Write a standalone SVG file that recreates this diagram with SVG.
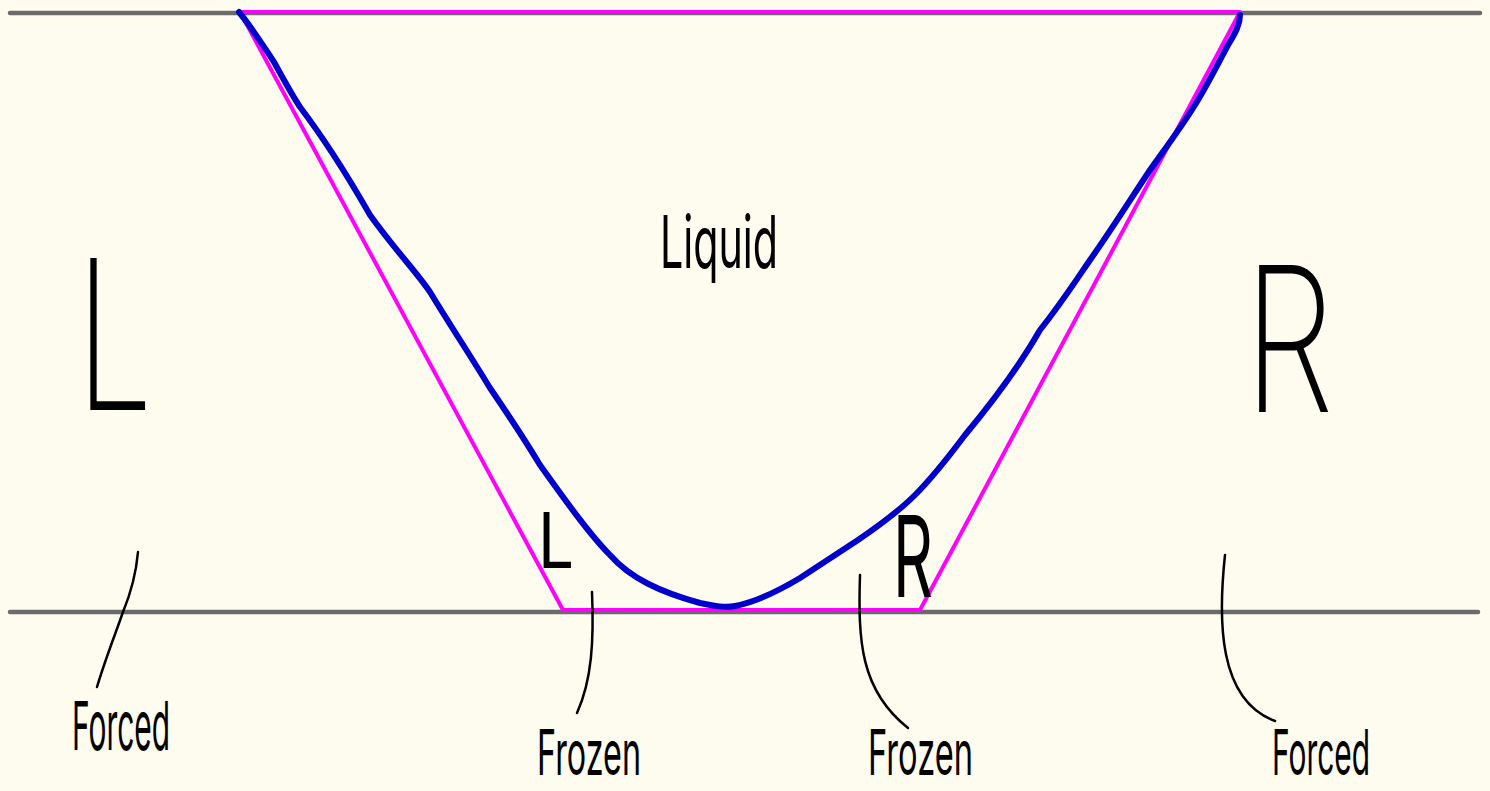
<svg xmlns="http://www.w3.org/2000/svg" width="1490" height="791" viewBox="0 0 1490 791">
<style>
.bg{fill:#fefcee}
.axis{stroke:#6b6b6b;stroke-width:4.5;stroke-linecap:round;fill:none}
.trap{stroke:#ff00ff;stroke-width:4;fill:none;stroke-linejoin:round}
.curve{stroke:#0000cc;stroke-width:6;fill:none;stroke-linecap:round;stroke-linejoin:round}
.lead{stroke:#000;stroke-width:2.5;fill:none;stroke-linecap:round}
.hand{font-family:Inter,"Liberation Sans",sans-serif;fill:#000}
.big{font-weight:200}
.small{font-weight:400}
</style>
<rect class="bg" x="0" y="0" width="1490" height="791"/>
<g id="boundaries">
<line class="axis" x1="10" y1="13" x2="1480" y2="13"/>
<line class="axis" x1="10" y1="612" x2="1478" y2="612"/>
</g>
<g id="trapezoid">
<path class="trap" d="M240,12 L1240,12 L920,610 L563,610 Z"/>
</g>
<g id="profile">
<path class="curve" d="M239,12 C252,28 262,44 274,62 C284,80 292,95 300,107 C325,140 350,180 370,215 C395,250 415,270 430,292 C450,325 470,355 490,388 C505,410 525,440 540,465 C565,500 590,535 610,555 C630,578 660,592 700,603 C715,606 725,608 735,606 C755,602 780,590 800,578 C820,565 840,552 858,540 C880,525 900,510 915,495 C935,475 950,455 965,435 C990,405 1020,365 1040,330 C1060,305 1075,282 1090,260 C1110,232 1130,200 1150,170 C1170,142 1185,122 1198,100 C1210,80 1220,60 1228,45 C1236,32 1240,24 1240,15"/>
</g>
<g id="label-liquid"><text class="hand small" x="660" y="268" font-size="73" textLength="118" lengthAdjust="spacingAndGlyphs">Liquid</text></g>
<g id="label-L-big"><text class="hand big" x="76" y="410" font-size="209" textLength="77" lengthAdjust="spacingAndGlyphs">L</text></g>
<g id="label-R-big"><text class="hand big" x="1244" y="412" font-size="202" textLength="90" lengthAdjust="spacingAndGlyphs">R</text></g>
<g id="label-L-small"><text class="hand small" x="538" y="568" font-size="77" textLength="36" lengthAdjust="spacingAndGlyphs">L</text></g>
<g id="label-R-small"><text class="hand small" x="893" y="597" font-size="113" textLength="40" lengthAdjust="spacingAndGlyphs">R</text></g>
<g id="label-forced-left"><text class="hand small" x="72" y="750" font-size="68" textLength="98" lengthAdjust="spacingAndGlyphs">Forced</text></g>
<g id="label-frozen-left"><text class="hand small" x="537" y="775" font-size="63" textLength="104" lengthAdjust="spacingAndGlyphs">Frozen</text></g>
<g id="label-frozen-right"><text class="hand small" x="868" y="775" font-size="63" textLength="105" lengthAdjust="spacingAndGlyphs">Frozen</text></g>
<g id="label-forced-right"><text class="hand small" x="1272" y="775" font-size="63" textLength="98" lengthAdjust="spacingAndGlyphs">Forced</text></g>
<g id="connectors">
<path class="lead" d="M138,552 C136,575 130,595 123,612 C115,635 105,660 97,687"/>
<path class="lead" d="M592,592 C594,640 592,680 577,713"/>
<path class="lead" d="M860,575 C858,640 860,690 908,728"/>
<path class="lead" d="M1225,555 C1218,620 1218,700 1275,721"/>
</g>
</svg>
